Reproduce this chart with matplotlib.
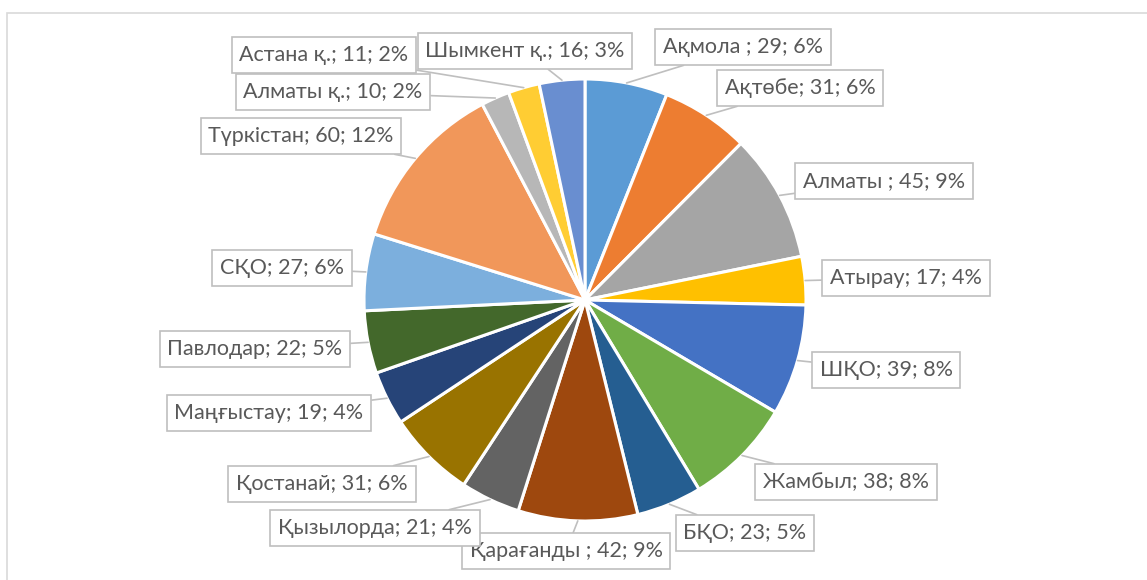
import matplotlib
matplotlib.use("Agg")
import matplotlib.pyplot as plt
from matplotlib.patches import Rectangle
import numpy as np

# data, clockwise from 12 o'clock
regions = ["Ақмола ", "Ақтөбе", "Алматы ", "Атырау", "ШҚО", "Жамбыл", "БҚО",
           "Қарағанды ", "Қызылорда", "Қостанай", "Маңғыстау", "Павлодар",
           "СҚО", "Түркістан", "Алматы қ.", "Астана қ.", "Шымкент қ."]
counts = [29, 31, 45, 17, 39, 38, 23, 42, 21, 31, 19, 22, 27, 60, 10, 11, 16]

colors = ["#5B9BD5", "#ED7D31", "#A5A5A5", "#FFC000", "#4472C4", "#70AD47",
          "#255E91", "#9E480E", "#636363", "#997300", "#264478", "#43682B",
          "#7CAFDD", "#F1975A", "#B7B7B7", "#FFCD33", "#698ED0"]

# label box centres in pixels (from top-left)
label_pos = [(743, 47), (800, 88), (884, 181), (906, 278), (886, 370),
             (846, 482), (745, 533), (566, 551), (375, 528), (322, 484),
             (269, 413), (255, 349), (282, 268), (301, 136), (333, 92),
             (324, 55), (525, 51)]

W, H = 1147, 580
cx, cy, r = 585, 300, 221

plt.rcParams['font.family'] = ['Lato', 'Noto Sans', 'DejaVu Sans']

fig = plt.figure(figsize=(W / 100, H / 100), dpi=100)
ax = fig.add_axes([0, 0, 1, 1])

# chart area border
ax.add_patch(Rectangle((7, -20), W + 20, H - 13 + 20, fill=False,
                       edgecolor="#D9D9D9", linewidth=1.2))

wedges, _ = ax.pie(counts, colors=colors, startangle=90, counterclock=False,
                   center=(cx, H - cy), radius=r, frame=True,
                   wedgeprops=dict(edgecolor="white", linewidth=2.2))
ax.set_xlim(0, W)
ax.set_ylim(0, H)
ax.axis("off")

total = sum(counts)
for w, name, v, (lx, ly) in zip(wedges, regions, counts, label_pos):
    ang = np.deg2rad((w.theta1 + w.theta2) / 2)
    ex = cx + r * np.cos(ang)
    ey = H - cy + r * np.sin(ang)
    pct = round(v / total * 100)
    ax.annotate(f"{name}; {v}; {pct}%", xy=(ex, ey), xytext=(lx, H - ly),
                ha="center", va="center", fontsize=15.5, color="#595959",
                bbox=dict(boxstyle="square,pad=0.36", fc="white",
                          ec="#BFBFBF", lw=1.2),
                arrowprops=dict(arrowstyle="-", color="#BFBFBF", lw=1.2,
                                shrinkA=0, shrinkB=0))

fig.savefig("out.png", dpi=100)
